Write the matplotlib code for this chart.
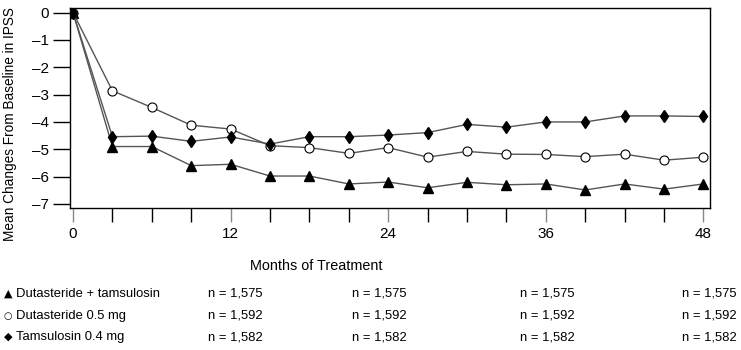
import numpy as np
import matplotlib.pyplot as plt

# data
months = [0, 3, 6, 9, 12, 15, 18, 21, 24, 27, 30, 33, 36, 39, 42, 45, 48]
combo = [0, -4.9, -4.9, -5.6, -5.55, -5.98, -5.98, -6.27, -6.2, -6.41, -6.21,
         -6.3, -6.27, -6.49, -6.27, -6.46, -6.27]
dutas = [0, -2.86, -3.47, -4.12, -4.26, -4.87, -4.94, -5.15, -4.94, -5.29, -5.08,
         -5.18, -5.19, -5.27, -5.18, -5.4, -5.29]
tamsu = [0, -4.54, -4.52, -4.71, -4.55, -4.81, -4.54, -4.54, -4.48, -4.39, -4.09,
         -4.19, -4.0, -4.0, -3.78, -3.78, -3.8]

labels = ['Dutasteride + tamsulosin', 'Dutasteride 0.5 mg', 'Tamsulosin 0.4 mg']
symbols = ['\u25B2', '\u25CB', '\u25C6']
n_text = ['n = 1,575', 'n = 1,592', 'n = 1,582']
n_cols = 4

plt.rcParams['font.family'] = ['Liberation Sans', 'DejaVu Sans']

fig = plt.figure(figsize=(7.41, 3.5), dpi=100)
W, H = 741, 350
ax = fig.add_axes([70 / W, 1 - 208 / H, 640 / W, 200 / H])

lc = '#555555'
ax.plot(months, combo, color=lc, lw=1, marker='^', ms=6.5, mfc='black', mec='black', zorder=3)
ax.plot(months, dutas, color=lc, lw=1, marker='o', ms=6.5, mfc='white', mec='black', mew=0.8, zorder=4)
ax.plot(months, tamsu, color=lc, lw=1, marker='d', ms=6.5, mfc='black', mec='black', zorder=5)

ax.set_xlim(-0.23, 48.5)
ax.set_ylim(-7.15, 0.17)
ax.set_yticks(range(0, -8, -1))
ax.set_yticklabels(['0'] + ['\u2013%d' % i for i in range(1, 8)], fontsize=11)
ax.set_xticks([0, 12, 24, 36, 48])
ax.set_xticks(range(0, 49, 3), minor=True)
ax.tick_params(axis='x', which='both', direction='out', length=10, width=1, labelsize=11, pad=4)
ax.tick_params(axis='x', which='major', color='#888888')
ax.tick_params(axis='y', direction='out', length=12, width=1, pad=3)
for s in ax.spines.values():
    s.set_linewidth(1)

fig.text(10 / W, 1 - 124 / H, 'Mean Changes From Baseline in IPSS', rotation=90,
         ha='center', va='center', fontsize=9.8)
fig.text(316 / W, 1 - 266 / H, 'Months of Treatment', ha='center', va='center', fontsize=10.4)

row_y = [294, 316, 337]
col_x = [208, 352, 520, 682]
sym_size = [8, 7, 8]
for i in range(3):
    fig.text(4 / W, 1 - row_y[i] / H, symbols[i], ha='left', va='center',
             fontsize=sym_size[i], family='DejaVu Sans')
    fig.text(16 / W, 1 - row_y[i] / H, labels[i], ha='left', va='center', fontsize=9.4)
    for j in range(n_cols):
        fig.text(col_x[j] / W, 1 - row_y[i] / H, n_text[i], ha='left', va='center', fontsize=9.4)

fig.savefig('out.png', dpi=100)
